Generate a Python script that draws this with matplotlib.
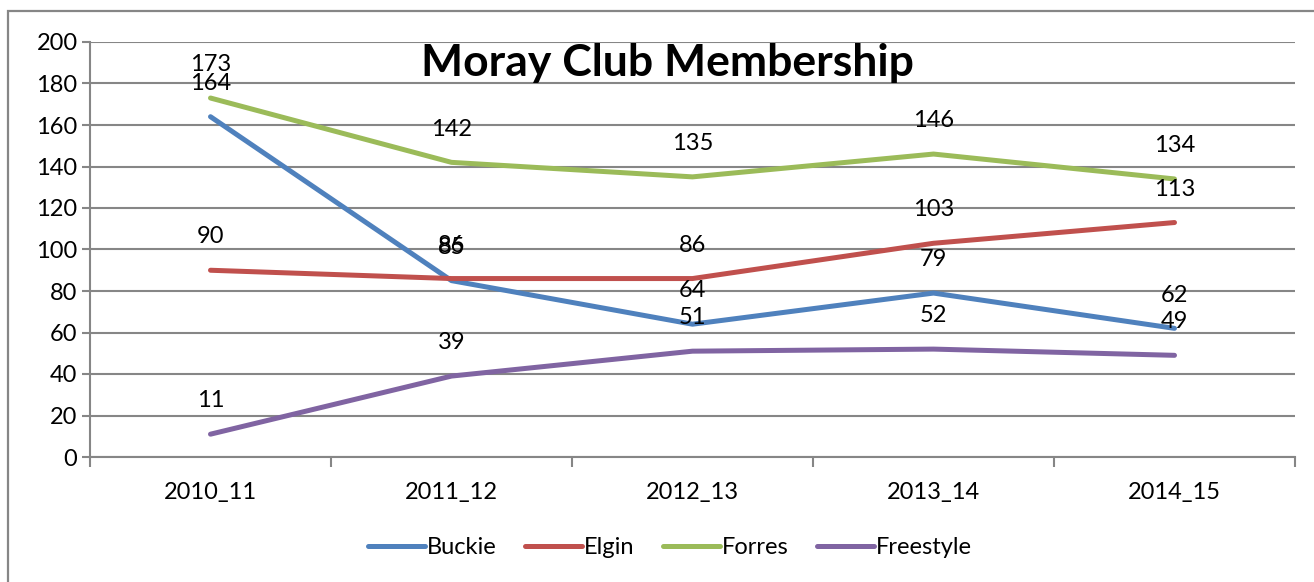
import matplotlib
matplotlib.use("Agg")
import matplotlib.pyplot as plt
from matplotlib.patches import Rectangle

plt.rcParams['font.family'] = ['Lato', 'DejaVu Sans']

seasons = ['2010_11', '2011_12', '2012_13', '2013_14', '2014_15']
clubs = ['Buckie', 'Elgin', 'Forres', 'Freestyle']
buckie = [164, 85, 64, 79, 62]
elgin = [90, 86, 86, 103, 113]
forres = [173, 142, 135, 146, 134]
freestyle = [11, 39, 51, 52, 49]
colours = ['#4F81BD', '#C0504D', '#9BBB59', '#8064A2']

grey = '#868686'
fs = 17
W, H = 1314, 582
fig = plt.figure(figsize=(W / 100, H / 100), dpi=100)

# chart frame, cut off at right and bottom like the screenshot
fig.patches.append(Rectangle((8 / W, -0.1), 1.2, 1 - 11 / H + 0.1,
                             transform=fig.transFigure, fill=False,
                             edgecolor=grey, linewidth=1.6))

ax = fig.add_axes([90 / W, 1 - 457 / H, (1295 - 90) / W, (457 - 42) / H])

x = list(range(len(seasons)))
for name, vals, col in zip(clubs, [buckie, elgin, forres, freestyle], colours):
    ax.plot(x, vals, color=col, linewidth=3.6, solid_capstyle='round', label=name, zorder=3)
    for xi, v in zip(x, vals):
        ax.annotate(str(v), (xi, v), xytext=(0, 24), textcoords='offset points',
                    ha='center', va='center', fontsize=fs, color='black', zorder=4)

ax.set_xlim(-0.5, len(seasons) - 0.5)
ax.set_ylim(0, 200)
ax.set_yticks(range(0, 201, 20))
ax.yaxis.grid(True, color=grey, linewidth=1.5)
ax.set_axisbelow(True)

ax.set_xticks([i - 0.5 for i in range(len(seasons) + 1)])
ax.set_xticklabels([])
ax.set_xticks(x, minor=True)
ax.set_xticklabels(seasons, minor=True)
ax.tick_params(axis='x', which='major', length=7, width=1.5, color=grey, direction='out')
ax.tick_params(axis='x', which='minor', length=0, pad=18, labelsize=fs)
ax.tick_params(axis='y', length=6, width=1.5, color=grey, direction='out', pad=3, labelsize=fs)

for side in ['top', 'right']:
    ax.spines[side].set_visible(False)
for side in ['left', 'bottom']:
    ax.spines[side].set_color(grey)
    ax.spines[side].set_linewidth(1.5)

fig.text(667 / W, 1 - 63 / H, 'Moray Club Membership', ha='center', va='center',
         fontsize=32, fontweight='bold')

fig.legend(loc='center', bbox_to_anchor=(670 / W, 1 - 548 / H), ncol=4, frameon=False,
           fontsize=fs, handlelength=2.4, handletextpad=0.1, columnspacing=1.2)

fig.savefig('out.png', dpi=100)
